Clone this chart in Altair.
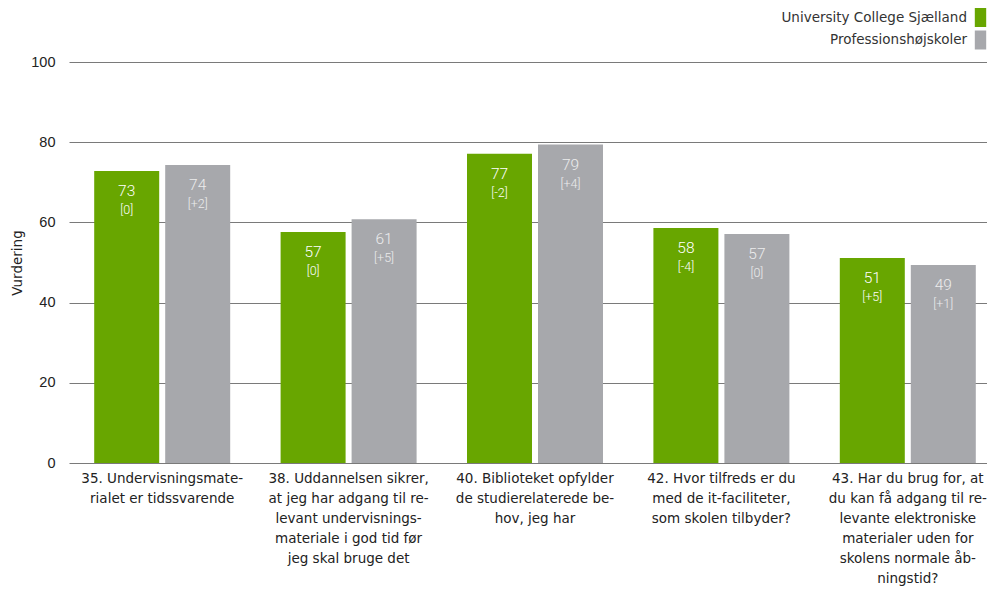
import altair as alt
import pandas as pd

questions = [
    "35. Undervisningsmate-|rialet er tidssvarende",
    "38. Uddannelsen sikrer,|at jeg har adgang til re-|levant undervisnings-|materiale i god tid før|jeg skal bruge det",
    "40. Biblioteket opfylder|de studierelaterede be-|hov, jeg har",
    "42. Hvor tilfreds er du|med de it-faciliteter,|som skolen tilbyder?",
    "43. Har du brug for, at|du kan få adgang til re-|levante elektroniske|materialer uden for|skolens normale åb-|ningstid?",
]
series = ["University College Sjælland", "Professionshøjskoler"]
ucs_values = [72.8, 57.6, 77.1, 58.6, 51.1]
ph_values = [74.3, 60.8, 79.4, 57.1, 49.4]
ucs_labels = ["73", "57", "77", "58", "51"]
ph_labels = ["74", "61", "79", "57", "49"]
ucs_delta = ["[0]", "[0]", "[-2]", "[-4]", "[+5]"]
ph_delta = ["[+2]", "[+5]", "[+4]", "[0]", "[+1]"]
colors = ["#68a600", "#a7a8ac"]
text_colors = ["#ffffff", "#ececec"]

rows = []
for i, q in enumerate(questions):
    rows.append({"q": q, "s": series[0], "v": ucs_values[i], "lab": ucs_labels[i], "d": ucs_delta[i], "tc": text_colors[0]})
    rows.append({"q": q, "s": series[1], "v": ph_values[i], "lab": ph_labels[i], "d": ph_delta[i], "tc": text_colors[1]})
df = pd.DataFrame(rows)

FONT = "DejaVu Sans"
TICKFONT = "Liberation Sans"

x_enc = alt.X("q:N", sort=questions, title=None,
              scale=alt.Scale(range=[0, 932], paddingInner=0.2704, paddingOuter=0.1352),
              axis=alt.Axis(labelExpr="split(datum.value, '|')", labelAngle=0,
                            labelFont=FONT, labelFontSize=13.5, labelColor="#222222",
                            labelLineHeight=20, labelBaseline="top", labelPadding=8,
                            labelLimit=0, ticks=False, domain=False, grid=False))
xo_enc = alt.XOffset("s:N", sort=series, scale=alt.Scale(paddingInner=0.0845, paddingOuter=0))
y_enc = alt.Y("v:Q", title="Vurdering", scale=alt.Scale(domain=[0, 100], nice=False),
              axis=alt.Axis(values=[0, 20, 40, 60, 80, 100], labelFont=TICKFONT, labelFontSize=14.5,
                            labelColor="#222222", labelPadding=14, ticks=False, domain=False,
                            grid=True, gridColor="#7a7a7a", gridWidth=1,
                            titleFont=FONT, titleFontSize=13.5, titleFontWeight="normal",
                            titleColor="#222222", titlePadding=6))

base = alt.Chart(df)

bars = base.mark_bar().encode(
    x=x_enc, xOffset=xo_enc, y=y_enc,
    color=alt.Color("s:N", sort=series,
                    scale=alt.Scale(domain=series, range=colors),
                    legend=alt.Legend(orient="none", legendX=902, legendY=-54, title=None,
                                      symbolType="M-0.6,-1L0.6,-1L0.6,1L-0.6,1Z",
                                      symbolSize=361, symbolStrokeWidth=0, symbolOpacity=1,
                                      labelAlign="right", labelOffset={"expr": "-23"},
                                      labelFont=FONT, labelFontSize=13.5, labelColor="#333333",
                                      labelLimit=0, rowPadding=3.5, padding=0)),
)

vals = base.mark_text(font="Roboto", fontSize=15.5, fontWeight=300, dy=20, baseline="middle").encode(
    x=alt.X("q:N", sort=questions), xOffset=alt.XOffset("s:N", sort=series), y="v:Q",
    text="lab:N", color=alt.Color("tc:N", scale=None),
)
deltas = base.mark_text(font="Roboto", fontSize=12.5, fontWeight=300, dy=39, baseline="middle").encode(
    x=alt.X("q:N", sort=questions), xOffset=alt.XOffset("s:N", sort=series), y="v:Q",
    text="d:N", color=alt.Color("tc:N", scale=None),
)

chart = alt.layer(bars, vals, deltas).properties(
    width=918, height=401,
    autosize=alt.AutoSizeParams(type="none"),
    padding={"left": 61, "top": 54, "right": 0, "bottom": 124},
).configure_view(stroke=None)

chart.save("out.html", embed_options={"renderer": "svg", "actions": False})
